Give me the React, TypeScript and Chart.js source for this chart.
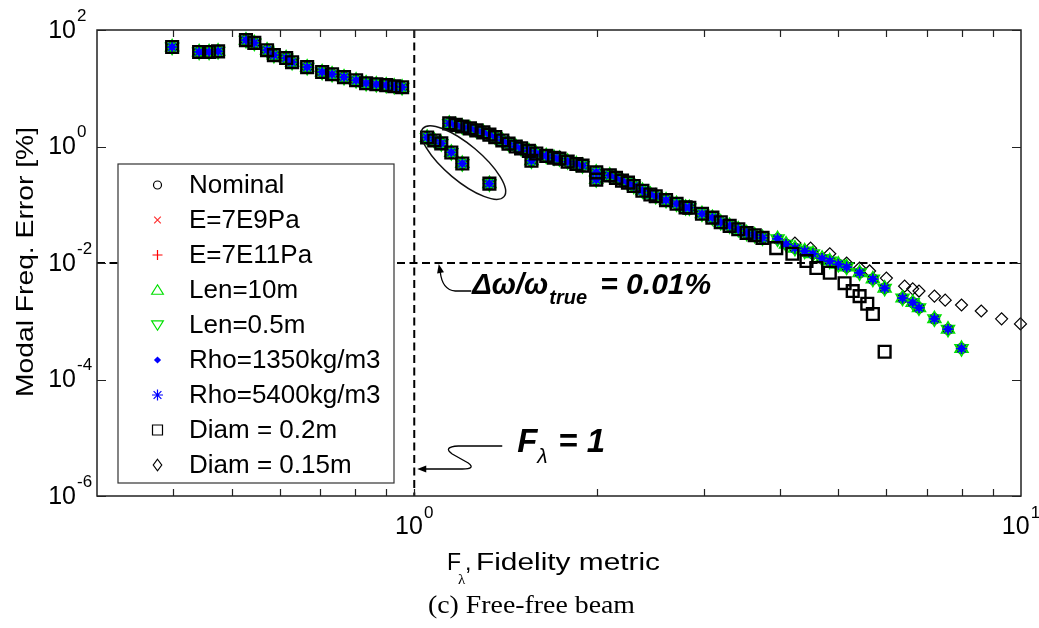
import React, { useEffect, useRef } from "react";
import { Chart, registerables } from "chart.js";
Chart.register(...registerables);

const SANS = '"Liberation Sans", Arial, Helvetica, sans-serif';
const SERIF = '"Liberation Serif", "Times New Roman", serif';

// ---- data (x = F_lambda, y = modal freq. error %) ----
const baseF = [
  0.399, 0.442, 0.459, 0.475, 0.528, 0.545, 0.572, 0.587, 0.615, 0.629, 0.666, 0.705, 0.732, 0.766, 0.802, 0.833, 0.866, 0.899, 0.927, 0.955,
  1.05, 1.079, 1.108, 1.151, 1.2, 1.33,
  1.142, 1.17, 1.2, 1.235, 1.266, 1.3, 1.33, 1.36, 1.397, 1.43, 1.47, 1.5, 1.545, 1.56, 1.589, 1.65, 1.7, 1.735, 1.79, 1.85, 1.894,
  1.995, 1.995, 2.1, 2.15, 2.2, 2.25, 2.3, 2.377, 2.45, 2.5, 2.6, 2.706, 2.8, 2.84, 2.98, 3.1, 3.2, 3.31, 3.42, 3.53, 3.64, 3.75, 3.97,
  4.1, 4.24, 4.4, 4.54, 4.7, 4.84, 5.0, 5.16, 5.42, 5.7, 5.96, 6.38, 6.63, 6.79, 7.2, 7.58, 7.98,
];
const baseErr = [
  51, 42, 42, 43, 67, 60, 45, 37, 33, 28, 23, 19, 17.4, 15.5, 13.7, 12.2, 11.7, 11.3, 10.8, 10.4,
  1.43, 1.27, 1.13, 0.79, 0.51, 0.23,
  2.49, 2.35, 2.2, 2.05, 1.89, 1.75, 1.6, 1.45, 1.27, 1.12, 1.0, 0.93, 0.84, 0.57, 0.757, 0.69, 0.64, 0.62, 0.55, 0.5, 0.47,
  0.36, 0.27, 0.32, 0.29, 0.26, 0.24, 0.21, 0.174, 0.15, 0.14, 0.12, 0.104, 0.09, 0.089, 0.07, 0.06, 0.05, 0.0435, 0.038, 0.0328, 0.03, 0.027, 0.026,
  0.021, 0.018, 0.016, 0.0144, 0.012, 0.0108, 0.0095, 0.0085, 0.0068, 0.0053, 0.0037, 0.0025, 0.0021, 0.0017, 0.0011, 0.00073, 0.00034,
];
const diamSplitF = 3.9;
const diam02TailF = [3.95, 4.2, 4.43, 4.6, 4.84, 5.12, 5.28, 5.42, 5.58, 5.7, 5.96];
const diam02TailErr = [0.018, 0.0144, 0.0108, 0.0082, 0.0068, 0.0045, 0.0033, 0.0027, 0.002, 0.00133, 0.0003];
const diam015TailF = [4.24, 4.5, 4.84, 5.16, 5.42, 5.63, 6.0, 6.43, 6.63, 6.79, 7.2, 7.5, 7.98, 8.6, 9.29, 9.98];
const diam015TailErr = [0.022, 0.018, 0.0144, 0.01, 0.0082, 0.0073, 0.0055, 0.004, 0.0036, 0.0033, 0.0027, 0.0023, 0.0019, 0.0015, 0.0011, 0.0009];

const seriesNames = [
  "Nominal", "E=7E9Pa", "E=7E11Pa", "Len=10m", "Len=0.5m",
  "Rho=1350kg/m3", "Rho=5400kg/m3", "Diam = 0.2m", "Diam = 0.15m",
];

const xMin = 0.3, xMax = 10, yMin = 1e-6, yMax = 1e2;
const xMinorTicks = [0.4, 0.5, 0.6, 0.7, 0.8, 0.9, 1, 2, 3, 4, 5, 6, 7, 8, 9];
const xLabelValues = [1, 10];
const xLabelExps = ["0", "1"];
const yTickValues = [1e2, 1, 1e-2, 1e-4, 1e-6];
const yTickExps = ["2", "0", "-2", "-4", "-6"];
const refF = 1; // F_lambda = 1 line
const refErr = 0.01; // 0.01 % line
const ellipseCenter = { x: 1.205, y: 0.53 };

function pts(f: number[], e: number[]) {
  return f.map((x, i) => ({ x, y: e[i] }));
}

type Kind = "circle" | "x" | "plus" | "tri" | "triDown" | "dot" | "star" | "square" | "diamond";
const legendKinds: { kind: Kind; color: string; r: number }[] = [
  { kind: "circle", color: "#000", r: 4 },
  { kind: "x", color: "#ff3030", r: 3.3 },
  { kind: "plus", color: "#ff0000", r: 5 },
  { kind: "tri", color: "#00e000", r: 6.5 },
  { kind: "triDown", color: "#00e000", r: 6.5 },
  { kind: "dot", color: "#0000ff", r: 3.6 },
  { kind: "star", color: "#0000ff", r: 5.5 },
  { kind: "square", color: "#000", r: 5 },
  { kind: "diamond", color: "#000", r: 5 },
];

function drawMarker(ctx: CanvasRenderingContext2D, kind: Kind, x: number, y: number, r: number, color: string) {
  ctx.save();
  ctx.strokeStyle = color;
  ctx.fillStyle = color;
  ctx.lineWidth = 1.2;
  ctx.beginPath();
  switch (kind) {
    case "circle":
      ctx.arc(x, y, r, 0, Math.PI * 2);
      ctx.stroke();
      break;
    case "x":
      ctx.moveTo(x - r, y - r); ctx.lineTo(x + r, y + r);
      ctx.moveTo(x + r, y - r); ctx.lineTo(x - r, y + r);
      ctx.stroke();
      break;
    case "plus":
      ctx.moveTo(x - r, y); ctx.lineTo(x + r, y);
      ctx.moveTo(x, y - r); ctx.lineTo(x, y + r);
      ctx.stroke();
      break;
    case "tri":
      ctx.moveTo(x, y - r * 0.8); ctx.lineTo(x + r * 0.9, y + r * 0.65); ctx.lineTo(x - r * 0.9, y + r * 0.65); ctx.closePath();
      ctx.stroke();
      break;
    case "triDown":
      ctx.moveTo(x, y + r * 0.8); ctx.lineTo(x + r * 0.9, y - r * 0.65); ctx.lineTo(x - r * 0.9, y - r * 0.65); ctx.closePath();
      ctx.stroke();
      break;
    case "dot":
      ctx.moveTo(x, y - r); ctx.lineTo(x + r, y); ctx.lineTo(x, y + r); ctx.lineTo(x - r, y); ctx.closePath();
      ctx.fill();
      break;
    case "star":
      for (let k = 0; k < 4; k++) {
        const a = (k * Math.PI) / 4;
        ctx.moveTo(x - Math.cos(a) * r, y - Math.sin(a) * r);
        ctx.lineTo(x + Math.cos(a) * r, y + Math.sin(a) * r);
      }
      ctx.stroke();
      break;
    case "square":
      ctx.rect(x - r, y - r, 2 * r, 2 * r);
      ctx.stroke();
      break;
    case "diamond":
      ctx.moveTo(x, y - r * 1.15); ctx.lineTo(x + r * 0.85, y); ctx.lineTo(x, y + r * 1.15); ctx.lineTo(x - r * 0.85, y); ctx.closePath();
      ctx.stroke();
      break;
  }
  ctx.restore();
}

function fillTextFit(ctx: CanvasRenderingContext2D, text: string, x: number, y: number, width: number) {
  const w = ctx.measureText(text).width;
  ctx.save();
  ctx.translate(x, y);
  ctx.scale(width / w, 1);
  ctx.fillText(text, 0, 0);
  ctx.restore();
}

function arrowHead(ctx: CanvasRenderingContext2D, tx: number, ty: number, angle: number, len: number, half: number) {
  ctx.beginPath();
  ctx.moveTo(tx, ty);
  ctx.lineTo(tx - Math.cos(angle) * len - Math.sin(angle) * half, ty - Math.sin(angle) * len + Math.cos(angle) * half);
  ctx.lineTo(tx - Math.cos(angle) * len + Math.sin(angle) * half, ty - Math.sin(angle) * len - Math.cos(angle) * half);
  ctx.closePath();
  ctx.fill();
}

const overlayPlugin = {
  id: "overlay",
  beforeDatasetsDraw(chart: any) {
    const { ctx, chartArea: ca, scales } = chart;
    const vx = scales.x.getPixelForValue(refF);
    const hy = scales.y.getPixelForValue(refErr);
    ctx.save();
    ctx.strokeStyle = "#000";
    ctx.lineWidth = 2;
    ctx.setLineDash([8, 4.5]);
    ctx.beginPath();
    ctx.moveTo(vx, ca.top);
    ctx.lineTo(vx, ca.bottom);
    ctx.stroke();
    ctx.beginPath();
    ctx.moveTo(ca.left, hy);
    ctx.lineTo(ca.right, hy);
    ctx.stroke();
    ctx.restore();
  },
  afterDatasetsDraw(chart: any) {
    const { ctx, chartArea: ca, scales } = chart;
    const xs = scales.x, ys = scales.y;
    const vx = xs.getPixelForValue(refF);
    const hy = ys.getPixelForValue(refErr);
    ctx.save();

    // ellipse around the group
    const ex = xs.getPixelForValue(ellipseCenter.x);
    const ey = ys.getPixelForValue(ellipseCenter.y);
    ctx.strokeStyle = "#111";
    ctx.lineWidth = 1.5;
    ctx.beginPath();
    ctx.ellipse(ex, ey, 53, 18, (40 * Math.PI) / 180, 0, Math.PI * 2);
    ctx.stroke();

    // annotation: delta omega
    ctx.fillStyle = "#000";
    ctx.textBaseline = "alphabetic";
    ctx.textAlign = "left";
    ctx.font = `italic bold 29px ${SANS}`;
    ctx.fillText("\u0394\u03c9/\u03c9", vx + 58, hy + 31);
    ctx.font = `italic bold 20px ${SANS}`;
    ctx.fillText("true", vx + 135, hy + 41);
    ctx.font = `italic bold 30px ${SANS}`;
    ctx.fillText("= 0.01%", vx + 186, hy + 31);
    // arrow to the line
    ctx.strokeStyle = "#000";
    ctx.lineWidth = 1.3;
    ctx.beginPath();
    ctx.moveTo(vx + 57, hy + 28);
    ctx.lineTo(vx + 41, hy + 28);
    ctx.quadraticCurveTo(vx + 28, hy + 27, vx + 26, hy + 9);
    ctx.stroke();
    arrowHead(ctx, vx + 24.5, hy + 1, -Math.PI / 2 - 0.2, 9, 3.5);

    // annotation: F_lambda = 1
    const by = ca.bottom;
    ctx.font = `italic bold 33px ${SANS}`;
    ctx.fillText("F", vx + 103, by - 44);
    ctx.font = `italic 21px ${SANS}`;
    ctx.fillText("\u03bb", vx + 123, by - 33);
    ctx.font = `italic bold 33px ${SANS}`;
    ctx.fillText("= 1", vx + 144, by - 44);
    ctx.beginPath();
    ctx.moveTo(vx + 88, by - 50);
    ctx.lineTo(vx + 44, by - 50);
    ctx.quadraticCurveTo(vx + 28, by - 49, vx + 38, by - 42);
    ctx.lineTo(vx + 54, by - 33);
    ctx.quadraticCurveTo(vx + 62, by - 27, vx + 48, by - 27);
    ctx.lineTo(vx + 10, by - 27);
    ctx.stroke();
    arrowHead(ctx, vx + 3, by - 27, Math.PI, 9, 3.5);

    // legend box
    const lx = ca.left + 21, ly = 164, lw = 276, lh = 319;
    ctx.fillStyle = "#fff";
    ctx.fillRect(lx, ly, lw, lh);
    ctx.strokeStyle = "#333";
    ctx.lineWidth = 1.2;
    ctx.strokeRect(lx, ly, lw, lh);
    ctx.font = `26px ${SANS}`;
    ctx.fillStyle = "#000";
    ctx.textBaseline = "middle";
    seriesNames.forEach((name, i) => {
      const yy = ly + 21 + i * 35;
      const m = legendKinds[i];
      drawMarker(ctx, m.kind, lx + 39.5, yy, m.r, m.color);
      ctx.fillStyle = "#000";
      ctx.fillText(name, lx + 71, yy + 1);
    });

    ctx.restore();
  },
  afterDraw(chart: any) {
    const { ctx, chartArea: ca, scales } = chart;
    const xs = scales.x, ys = scales.y;
    ctx.save();
    // axes box
    ctx.strokeStyle = "#222";
    ctx.lineWidth = 1.5;
    ctx.strokeRect(ca.left, ca.top, ca.right - ca.left, ca.bottom - ca.top);
    ctx.lineWidth = 1.2;
    ctx.beginPath();
    xMinorTicks.forEach((v) => {
      const px = Math.round(xs.getPixelForValue(v)) + 0.5;
      ctx.moveTo(px, ca.bottom); ctx.lineTo(px, ca.bottom - 7);
      ctx.moveTo(px, ca.top); ctx.lineTo(px, ca.top + 7);
    });
    yTickValues.forEach((v) => {
      const py = Math.round(ys.getPixelForValue(v)) + 0.5;
      ctx.moveTo(ca.left, py); ctx.lineTo(ca.left + 9, py);
      ctx.moveTo(ca.right, py); ctx.lineTo(ca.right - 9, py);
    });
    ctx.stroke();

    // y tick labels
    ctx.fillStyle = "#000";
    ctx.textBaseline = "middle";
    yTickValues.forEach((v, i) => {
      const py = ys.getPixelForValue(v);
      ctx.textAlign = "right";
      ctx.font = `25px ${SANS}`;
      ctx.fillText("10", 76, py + 1);
      ctx.textAlign = "left";
      ctx.font = `17px ${SANS}`;
      ctx.fillText(yTickExps[i], 77, py - 14);
    });
    // x tick labels
    xLabelValues.forEach((v, i) => {
      const px = xs.getPixelForValue(v);
      ctx.font = `25px ${SANS}`;
      const wb = ctx.measureText("10").width;
      ctx.font = `17px ${SANS}`;
      const we = ctx.measureText(xLabelExps[i]).width;
      const x0 = px - (wb + we + 1) / 2;
      ctx.textAlign = "left";
      ctx.font = `25px ${SANS}`;
      ctx.fillText("10", x0, ca.bottom + 31);
      ctx.font = `17px ${SANS}`;
      ctx.fillText(xLabelExps[i], x0 + wb + 1, ca.bottom + 17);
    });

    // y axis title
    ctx.save();
    ctx.translate(26, 262);
    ctx.rotate(-Math.PI / 2);
    ctx.font = `24px ${SANS}`;
    ctx.textAlign = "left";
    ctx.textBaseline = "middle";
    fillTextFit(ctx, "Modal Freq. Error [%]", -135, 0, 270);
    ctx.restore();

    // x axis title
    ctx.textBaseline = "alphabetic";
    ctx.textAlign = "left";
    ctx.font = `23px ${SANS}`;
    ctx.fillText("F", 447, 570);
    ctx.font = `15px ${SERIF}`;
    ctx.fillText("\u03bb", 458, 584);
    ctx.font = `23px ${SANS}`;
    ctx.fillText(",", 465, 570);
    fillTextFit(ctx, "Fidelity metric", 476, 570, 184);

    // caption
    ctx.font = `26px ${SERIF}`;
    fillTextFit(ctx, "(c) Free-free beam", 428, 613, 207);
    ctx.restore();
  },
};

export default function App() {
  const canvasRef = useRef<HTMLCanvasElement | null>(null);

  useEffect(() => {
    const canvas = canvasRef.current;
    if (!canvas) return;

    const diam02F = [...baseF.filter((f) => f < diamSplitF), ...diam02TailF];
    const diam02E = [...baseErr.filter((_, i) => baseF[i] < diamSplitF), ...diam02TailErr];
    const diam015F = [...baseF.filter((f) => f < diamSplitF), ...diam015TailF];
    const diam015E = [...baseErr.filter((_, i) => baseF[i] < diamSplitF), ...diam015TailErr];

    const common = { showLine: false, clip: false as any };
    const datasets: any[] = [
      { ...common, label: seriesNames[0], data: pts(baseF, baseErr), pointStyle: "circle", pointRadius: 5, borderColor: "#000", backgroundColor: "rgba(0,0,0,0)", borderWidth: 1.5, order: 7 },
      { ...common, label: seriesNames[1], data: pts(baseF, baseErr), pointStyle: "crossRot", pointRadius: 4.5, borderColor: "#ff3030", backgroundColor: "#ff3030", borderWidth: 1.2, order: 6 },
      { ...common, label: seriesNames[2], data: pts(baseF, baseErr), pointStyle: "cross", pointRadius: 5, borderColor: "#ff0000", backgroundColor: "#ff0000", borderWidth: 1.2, order: 5 },
      { ...common, label: seriesNames[3], data: pts(baseF, baseErr), pointStyle: "triangle", pointRadius: 7.5, borderColor: "#00e000", backgroundColor: "rgba(0,0,0,0)", borderWidth: 1.5, order: 4 },
      { ...common, label: seriesNames[4], data: pts(baseF, baseErr), pointStyle: "triangle", rotation: 180, pointRadius: 7.5, borderColor: "#00e000", backgroundColor: "rgba(0,0,0,0)", borderWidth: 1.5, order: 3 },
      { ...common, label: seriesNames[5], data: pts(baseF, baseErr), pointStyle: "rectRot", pointRadius: 4, borderColor: "#0000ff", backgroundColor: "#0000ff", borderWidth: 1, order: 1 },
      { ...common, label: seriesNames[6], data: pts(baseF, baseErr), pointStyle: "star", pointRadius: 5.5, borderColor: "#0000ff", backgroundColor: "#0000ff", borderWidth: 1.3, order: 2 },
      { ...common, label: seriesNames[7], data: pts(diam02F, diam02E), pointStyle: "rect", pointRadius: 8.3, borderColor: "#000", backgroundColor: "rgba(0,0,0,0)", borderWidth: 2.4, order: 0 },
      { ...common, label: seriesNames[8], data: pts(diam015F, diam015E), pointStyle: "rectRot", pointRadius: 6, borderColor: "#000", backgroundColor: "rgba(0,0,0,0)", borderWidth: 1.2, order: 9 },
    ];

    const chart = new Chart(canvas, {
      type: "scatter",
      data: { datasets },
      options: {
        responsive: false,
        devicePixelRatio: 1,
        animation: false,
        events: [],
        layout: { padding: { top: 30, right: 18, left: 0, bottom: 0 } },
        plugins: { legend: { display: false }, tooltip: { enabled: false }, title: { display: false } },
        elements: { point: { hoverRadius: 0 } },
        scales: {
          x: {
            type: "logarithmic",
            min: xMin,
            max: xMax,
            ticks: { display: false },
            grid: { display: false },
            border: { display: false },
            afterFit: (s: any) => { s.height = 132; },
          },
          y: {
            type: "logarithmic",
            min: yMin,
            max: yMax,
            ticks: { display: false },
            grid: { display: false },
            border: { display: false },
            afterFit: (s: any) => { s.width = 97; },
          },
        },
      } as any,
      plugins: [overlayPlugin],
    });
    return () => chart.destroy();
  }, []);

  return (
    <div style={{ position: "fixed", left: 0, top: 0, width: 1039, height: 628, background: "#fff" }}>
      <canvas ref={canvasRef} width={1039} height={628} style={{ display: "block" }} />
    </div>
  );
}
